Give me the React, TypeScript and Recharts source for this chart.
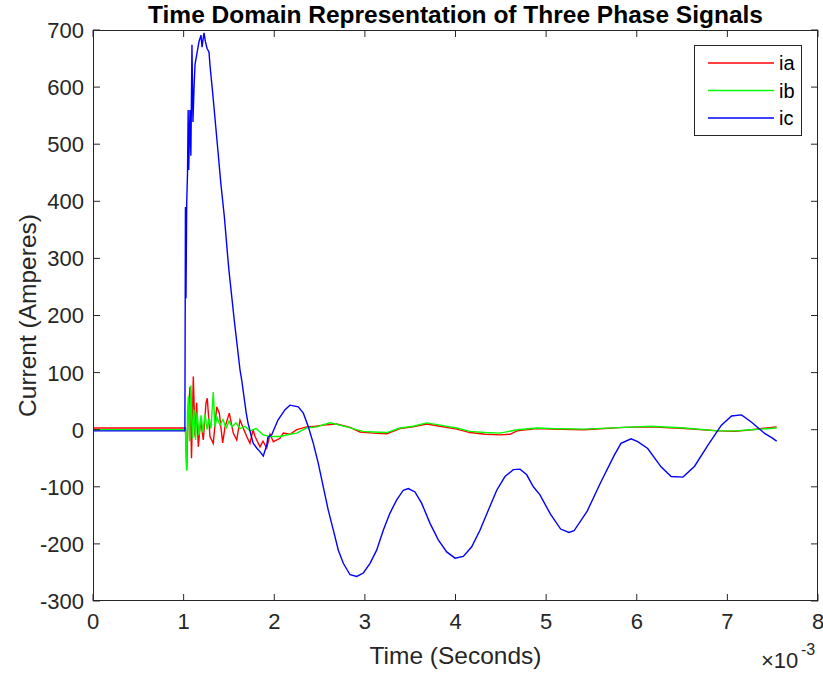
import React from "react";
import { Legend, Line, LineChart, XAxis, YAxis } from "recharts";

// time in ms (axis reads 0..8 with a x10^-3 multiplier), current in A
const IA_T = [0, 0.5, 1.0, 1.02, 1.034, 1.048, 1.07, 1.087, 1.107, 1.125, 1.144, 1.162, 1.188, 1.217, 1.247, 1.261, 1.291, 1.327, 1.365, 1.394, 1.431, 1.457, 1.504, 1.548, 1.586, 1.622, 1.658, 1.696, 1.732, 1.766, 1.788, 1.843, 1.876, 1.917, 1.953, 1.99, 2.063, 2.1, 2.174, 2.248, 2.358, 2.46, 2.538, 2.689, 2.836, 2.946, 3.09, 3.241, 3.388, 3.531, 3.682, 3.829, 4.013, 4.16, 4.326, 4.491, 4.601, 4.679, 4.896, 5.048, 5.418, 5.859, 6.157, 6.528, 6.897, 7.084, 7.267, 7.544];
const IA_V = [3, 3, 3, 3, -70, 20, 75, -50, 93, -12, 47, -30, 17, -18, 47, 55, -12, -24, 40, 29, -23, 5, 29, -6, -18, 17, 3, -12, -24, 0, -12, -30, -20, -32, -8, -21, -15, -6, -8, 0, 5, 6, 8, 10, 4, -4, -6, -7, 2, 5, 10, 6, 1, -5, -8, -9, -8, -2, 2, 1, 0, 4, 5, 2, -2, -3, 0, 5];

const IB_T = [0, 0.5, 1.0, 1.02, 1.034, 1.043, 1.052, 1.065, 1.081, 1.098, 1.114, 1.131, 1.148, 1.17, 1.192, 1.214, 1.236, 1.258, 1.28, 1.302, 1.327, 1.346, 1.368, 1.401, 1.434, 1.468, 1.501, 1.534, 1.578, 1.622, 1.677, 1.732, 1.799, 1.876, 1.953, 2.063, 2.174, 2.248, 2.358, 2.468, 2.615, 2.799, 2.979, 3.09, 3.241, 3.388, 3.531, 3.682, 3.829, 4.013, 4.16, 4.326, 4.491, 4.679, 4.896, 5.048, 5.418, 5.859, 6.157, 6.528, 6.897, 7.084, 7.267, 7.544];
const IB_V = [0, 0, 0, 0, -72, 30, 58, -20, 78, -15, 35, -18, 30, -10, 25, -5, 28, 0, 20, 2, 66, 5, 22, 8, 18, 3, 15, 5, 12, 2, 6, -2, 2, -9, -12, -12, -8, -6, 3, 5, 12, 5, -3, -4, -5, 3, 6, 12, 8, 3, -3, -5, -6, 0, 3, 2, 1, 4, 6, 3, -2, -2, 0, 3];

const IC_T = [0, 0.5, 1.0, 1.014, 1.02, 1.026, 1.034, 1.043, 1.05, 1.056, 1.065, 1.07, 1.08, 1.092, 1.103, 1.115, 1.126, 1.148, 1.17, 1.192, 1.203, 1.225, 1.24, 1.258, 1.28, 1.291, 1.32, 1.36, 1.38, 1.41, 1.45, 1.48, 1.5, 1.56, 1.622, 1.641, 1.69, 1.71, 1.766, 1.806, 1.84, 1.879, 1.917, 1.931, 1.972, 2.041, 2.119, 2.174, 2.265, 2.321, 2.376, 2.431, 2.486, 2.541, 2.596, 2.652, 2.707, 2.762, 2.836, 2.91, 2.983, 3.057, 3.13, 3.203, 3.277, 3.351, 3.424, 3.479, 3.553, 3.627, 3.719, 3.81, 3.903, 3.995, 4.086, 4.179, 4.27, 4.362, 4.455, 4.546, 4.638, 4.712, 4.786, 4.859, 4.932, 5.048, 5.16, 5.252, 5.308, 5.455, 5.603, 5.751, 5.826, 5.937, 6.011, 6.121, 6.268, 6.38, 6.51, 6.638, 6.786, 6.934, 7.046, 7.156, 7.267, 7.415, 7.489, 7.544];
const IC_V = [-2, -2, -2, -2, 390, 230, 397, 450, 560, 455, 520, 560, 480, 674, 539, 600, 640, 660, 680, 691, 670, 695, 680, 668, 661, 638, 591, 521, 486, 432, 372, 315, 279, 190, 105, 87, 30, 12, -23, -32, -38, -46, -27, -13, -9, 17, 35, 43, 40, 29, 5, -24, -59, -100, -141, -176, -211, -234, -254, -257, -251, -234, -211, -176, -146, -123, -106, -103, -109, -129, -164, -193, -214, -225, -222, -205, -176, -141, -106, -82, -70, -69, -79, -100, -114, -148, -174, -180, -177, -142, -92, -45, -24, -16, -21, -33, -65, -82, -83, -64, -27, 8, 24, 26, 13, -7, -14, -20];

const X_TICKS = [0, 1, 2, 3, 4, 5, 6, 7, 8];
const Y_TICKS = [-300, -200, -100, 0, 100, 200, 300, 400, 500, 600, 700];

const SERIES = [
  { key: "ia", color: "#ff0000", t: IA_T, v: IA_V },
  { key: "ib", color: "#00ff00", t: IB_T, v: IB_V },
  { key: "ic", color: "#0000ff", t: IC_T, v: IC_V },
];

const W = 823;
const H = 675;
const PLOT = { left: 93, right: 818, top: 30, bottom: 601 };
const AX = "#262626";
const FONT = "'Liberation Sans', Arial, Helvetica, sans-serif";

const toRows = (t: number[], v: number[]) => t.map((x, i) => ({ t: x, v: v[i] }));

function XTick({ x, payload }: any) {
  return (
    <g>
      <line x1={x} x2={x} y1={PLOT.bottom} y2={PLOT.bottom - 7} stroke={AX} />
      <line x1={x} x2={x} y1={PLOT.top} y2={PLOT.top + 7} stroke={AX} />
      <text x={x} y={629} textAnchor="middle" fontSize={22} fill={AX} fontFamily={FONT}>
        {payload.value}
      </text>
    </g>
  );
}

function YTick({ y, payload }: any) {
  return (
    <g>
      <line x1={PLOT.left} x2={PLOT.left + 7} y1={y} y2={y} stroke={AX} />
      <line x1={PLOT.right} x2={PLOT.right - 7} y1={y} y2={y} stroke={AX} />
      <text x={84} y={y} dy="0.36em" textAnchor="end" fontSize={22} fill={AX} fontFamily={FONT}>
        {payload.value}
      </text>
    </g>
  );
}

function LegendBox({ payload }: any) {
  return (
    <svg width={108} height={91} style={{ display: "block" }}>
      <rect x={0.5} y={0.5} width={107} height={90} fill="#fff" stroke={AX} />
      {(payload || []).map((p: any, i: number) => {
        const cy = 18 + i * 27.5;
        return (
          <g key={p.value}>
            <line x1={14} x2={80} y1={cy} y2={cy} stroke={p.color} strokeWidth={1.3} />
            <text x={85} y={cy} dy="0.36em" fontSize={20} fill="#000" fontFamily={FONT}>
              {p.value}
            </text>
          </g>
        );
      })}
    </svg>
  );
}

export default function App() {
  return (
    <div style={{ position: "absolute", left: 0, top: 0, width: W, height: H, background: "#fff" }}>
      <LineChart
        width={W}
        height={H}
        margin={{ top: PLOT.top, right: W - PLOT.right, bottom: 0, left: 0 }}
      >
        <XAxis
          type="number"
          dataKey="t"
          domain={[0, 8]}
          ticks={X_TICKS}
          allowDataOverflow
          height={H - PLOT.bottom}
          axisLine={false}
          tickLine={false}
          tick={<XTick />}
        />
        <YAxis
          type="number"
          dataKey="v"
          domain={[-300, 700]}
          ticks={Y_TICKS}
          allowDataOverflow
          width={PLOT.left}
          axisLine={false}
          tickLine={false}
          tick={<YTick />}
        />
        {SERIES.map((s) => (
          <Line
            key={s.key}
            name={s.key}
            data={toRows(s.t, s.v)}
            dataKey="v"
            type="linear"
            stroke={s.color}
            strokeWidth={1.4}
            dot={false}
            activeDot={false}
            isAnimationActive={false}
          />
        ))}
        <Legend
          layout="vertical"
          align="center"
          verticalAlign="middle"
          wrapperStyle={{ left: 694, top: 45, width: 108, height: 91 }}
          content={<LegendBox />}
        />
      </LineChart>
      <svg
        width={W}
        height={H}
        style={{ position: "absolute", left: 0, top: 0, pointerEvents: "none" }}
        fontFamily={FONT}
      >
        <rect
          x={PLOT.left + 0.5}
          y={PLOT.top + 0.5}
          width={PLOT.right - PLOT.left - 1}
          height={PLOT.bottom - PLOT.top - 1}
          fill="none"
          stroke={AX}
        />
        <text x={(PLOT.left + PLOT.right) / 2} y={23} textAnchor="middle" fontSize={24.5} fontWeight="bold" fill="#000">
          Time Domain Representation of Three Phase Signals
        </text>
        <text x={(PLOT.left + PLOT.right) / 2} y={664} textAnchor="middle" fontSize={24.5} fill={AX}>
          Time (Seconds)
        </text>
        <text
          transform={`translate(36, ${(PLOT.top + PLOT.bottom) / 2}) rotate(-90)`}
          textAnchor="middle"
          fontSize={24.5}
          fill={AX}
        >
          Current (Amperes)
        </text>
        <text x={761} y={668} fontSize={22} fill={AX}>
          ×10
        </text>
        <text x={801} y={655} fontSize={16} fill={AX}>
          -3
        </text>
      </svg>
    </div>
  );
}
